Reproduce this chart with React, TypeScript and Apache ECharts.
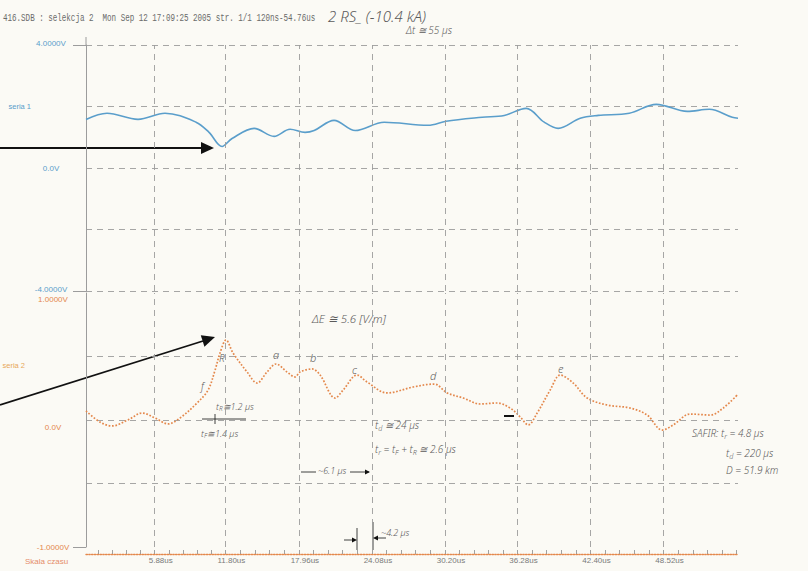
import React, { useEffect, useRef } from 'react';
import * as echarts from 'echarts';

// Time window of the record (µs) and labelled time marks
const startTime = 0.12;
const endTime = 54.76;
const timeTicks = [5.88, 11.8, 17.96, 24.08, 30.2, 36.28, 42.4, 48.52];

// Channel scales
const topAxisValues = [-4, 0, 4];
const topAxisLabels = ['-4.0000V', '0.0V', '4.0000V'];
const bottomAxisValues = [-1, 0, 1];
const bottomAxisLabels = ['-1.0000V', '0.0V', '1.0000V'];

// seria 1 (current channel)
const blueTime = [0.12, 1.88, 4.48, 6.74, 9.34, 10.43, 11.52, 12.36, 14.21, 15.88, 17.22, 18.48, 19.24, 20.91, 22.68, 25.11, 28.79, 30.3, 33.32, 35.17, 37.01, 38.52, 39.69, 41.54, 43.05, 45.65, 47.91, 50.51, 52.35, 54.28, 54.76];
const blueVolt = [1.58, 1.78, 1.58, 1.78, 1.49, 1.16, 0.7, 0.96, 1.29, 1.03, 1.26, 1.16, 1.22, 1.55, 1.22, 1.49, 1.39, 1.52, 1.65, 1.71, 1.94, 1.49, 1.29, 1.62, 1.71, 1.78, 2.07, 1.84, 1.91, 1.65, 1.62];

// seria 2 (field channel)
const orangeTime = [0.12, 1.29, 2.3, 3.64, 4.82, 5.9, 7.0, 8.0, 9.43, 10.35, 10.94, 11.35, 11.86, 12.44, 13.62, 14.46, 15.29, 16.05, 16.97, 17.64, 18.06, 19.07, 19.74, 21.0, 21.67, 22.84, 23.68, 25.36, 27.54, 29.3, 30.39, 31.73, 33.16, 34.58, 35.67, 36.51, 37.18, 37.93, 39.02, 39.86, 40.95, 42.12, 43.8, 45.73, 47.15, 48.41, 49.33, 50.76, 52.44, 53.52, 54.7];
const orangeVolt = [0.071, -0.016, -0.047, 0.0, 0.055, 0.016, -0.031, 0.016, 0.134, 0.236, 0.394, 0.528, 0.63, 0.528, 0.378, 0.291, 0.378, 0.441, 0.378, 0.339, 0.378, 0.402, 0.354, 0.173, 0.236, 0.354, 0.299, 0.213, 0.26, 0.283, 0.213, 0.173, 0.126, 0.134, 0.094, 0.024, -0.039, 0.055, 0.236, 0.354, 0.291, 0.173, 0.118, 0.094, 0.039, -0.079, -0.039, 0.047, 0.039, 0.094, 0.197];

const BLUE = '#5a9ecb';
const ORANGE = '#e4884c';
const GRID = '#9c9c9c';
const INK = '#5b5b5b';

// small scale ticks: five subdivisions per labelled interval
function buildMinorTicks(): number[] {
  const out: number[] = [];
  const first = timeTicks[1] - timeTicks[0];
  for (let v = timeTicks[0]; v > startTime; v -= first / 5) out.push(v);
  for (let i = 0; i < timeTicks.length - 1; i++) {
    const s = (timeTicks[i + 1] - timeTicks[i]) / 5;
    for (let k = 1; k <= 5; k++) out.push(timeTicks[i] + k * s);
  }
  const last = timeTicks[timeTicks.length - 1] - timeTicks[timeTicks.length - 2];
  for (let v = timeTicks[timeTicks.length - 1] + last / 5; v <= endTime; v += last / 5) out.push(v);
  return out.map((v) => Math.round(v * 1000) / 1000).sort((a, b) => a - b);
}

const HANDFONT = '"Noto Sans", sans-serif';

function hand(x: number, y: number, text: string, size = 10, extra: any = {}) {
  return {
    type: 'text',
    x,
    y,
    silent: true,
    style: {
      text,
      fill: INK,
      fontSize: size,
      fontFamily: HANDFONT,
      fontStyle: 'italic',
      fontWeight: 300,
      verticalAlign: 'middle',
      ...extra,
    },
  };
}

// handwritten text with subscripts: alternating normal / subscript parts
function handSub(x: number, y: number, parts: string[], size = 9) {
  const base = { fill: INK, fontSize: size, fontFamily: HANDFONT, fontStyle: 'italic', fontWeight: 300 };
  let text = '';
  parts.forEach((p, i) => {
    text += (i % 2 === 0 ? '{n|' : '{s|') + p + '}';
  });
  return {
    type: 'text',
    x,
    y,
    silent: true,
    style: {
      text,
      verticalAlign: 'middle',
      rich: {
        n: { ...base },
        s: { ...base, fontSize: size * 0.72, padding: [size * 0.55, 0, 0, 0] },
      },
    },
  };
}

function blackLine(x1: number, y1: number, x2: number, y2: number, w = 1) {
  return { type: 'line', silent: true, shape: { x1, y1, x2, y2 }, style: { stroke: '#111', lineWidth: w } };
}

function arrowHead(tx: number, ty: number, fx: number, fy: number, len = 13, half = 6) {
  const dx = tx - fx;
  const dy = ty - fy;
  const l = Math.hypot(dx, dy);
  const ux = dx / l;
  const uy = dy / l;
  const bx = tx - ux * len;
  const by = ty - uy * len;
  return {
    type: 'polygon',
    silent: true,
    shape: { points: [[tx, ty], [bx - uy * half, by + ux * half], [bx + uy * half, by - ux * half]] },
    style: { fill: '#111' },
  };
}

export default function App() {
  const ref = useRef<HTMLDivElement>(null);

  useEffect(() => {
    if (!ref.current) return;
    const chart = echarts.init(ref.current, undefined, { renderer: 'svg' });

    const vGrid = {
      silent: true,
      symbol: ['none', 'none'],
      label: { show: false },
      emphasis: { disabled: true },
      lineStyle: { color: GRID, type: [6, 5], width: 0.9 },
      data: timeTicks.map((v) => ({ xAxis: v })),
    };

    const topLabel = (v: number) => {
      const i = topAxisValues.indexOf(v);
      if (i < 0) return '';
      const key = v === 0 ? 'z' : 'e';
      return '{' + key + '|' + topAxisLabels[i] + '}';
    };
    const bottomLabel = (v: number) => {
      const i = bottomAxisValues.indexOf(v);
      if (i < 0) return '';
      const key = v === 1 ? 'hi' : v === 0 ? 'z' : 'lo';
      return '{' + key + '|' + bottomAxisLabels[i] + '}';
    };

    // stub axes that only carry the outward tick marks at the labelled limits
    const stubAxis = (gridIndex: number, min: number, max: number, values: number[]) => ({
      type: 'value',
      gridIndex,
      min,
      max,
      position: 'left',
      axisLine: { show: false, onZero: false },
      axisTick: { show: true, customValues: values, length: 13, lineStyle: { color: GRID } },
      axisLabel: { show: false },
      splitLine: { show: false },
    });

    const option: any = {
      animation: false,
      backgroundColor: '#fbfaf5',
      textStyle: { fontFamily: '"Liberation Sans", Arial, sans-serif' },
      grid: [
        { left: 86, right: 70, top: 45, height: 246 },
        { left: 86, right: 70, top: 293, height: 254 },
      ],
      xAxis: [
        {
          type: 'value',
          gridIndex: 0,
          min: startTime,
          max: endTime,
          axisLine: { show: false },
          axisTick: { show: false },
          axisLabel: { show: false },
          splitLine: { show: false },
        },
        {
          type: 'value',
          gridIndex: 1,
          min: startTime,
          max: endTime,
          offset: 7,
          axisLine: { show: true, onZero: false, lineStyle: { color: ORANGE, type: 'dotted', width: 1.4 } },
          axisTick: { show: true, inside: true, length: 4, customValues: buildMinorTicks(), lineStyle: { color: '#8a8a8a', width: 0.8 } },
          axisLabel: {
            customValues: timeTicks,
            margin: 2,
            fontSize: 8,
            color: '#7a7a7a',
            formatter: (v: number) => '{t|' + v.toFixed(2) + 'us}',
            rich: { t: { fontSize: 8, color: '#7a7a7a', padding: [0, 0, 0, 12] } },
          },
          splitLine: { show: false },
        },
      ],
      yAxis: [
        {
          type: 'value',
          gridIndex: 0,
          min: -4,
          max: 4,
          interval: 2,
          axisLine: { show: true, onZero: false, lineStyle: { color: GRID, width: 1 } },
          axisTick: { show: false },
          axisLabel: {
            customValues: topAxisValues,
            align: 'center',
            margin: 35,
            fontSize: 8,
            color: BLUE,
            formatter: topLabel,
            rich: {
              e: { fontSize: 8, color: BLUE, padding: [0, 0, 4, 0] },
              z: { fontSize: 8, color: BLUE },
            },
          },
          splitLine: { show: true, lineStyle: { color: GRID, type: [6, 5], width: 0.9 } },
        },
        {
          type: 'value',
          gridIndex: 1,
          min: -1,
          max: 1,
          interval: 0.5,
          axisLine: { show: true, onZero: false, lineStyle: { color: GRID, width: 1 } },
          axisTick: { show: false },
          axisLabel: {
            customValues: bottomAxisValues,
            align: 'center',
            margin: 33,
            fontSize: 8,
            color: ORANGE,
            formatter: bottomLabel,
            rich: {
              hi: { fontSize: 8, color: ORANGE, padding: [12, 0, 0, 0] },
              z: { fontSize: 8, color: ORANGE, padding: [14, 0, 0, 0] },
              lo: { fontSize: 8, color: ORANGE },
            },
          },
          splitLine: { show: true, showMinLine: false, showMaxLine: false, lineStyle: { color: GRID, type: [6, 5], width: 0.9 } },
        },
        stubAxis(0, -4, 4, [-4, 4]),
        stubAxis(1, -1, 1, [-1]),
      ],
      series: [
        {
          name: 'seria 1',
          type: 'line',
          xAxisIndex: 0,
          yAxisIndex: 0,
          data: blueTime.map((t, i) => [t, blueVolt[i]]),
          smooth: 0.35,
          showSymbol: false,
          silent: true,
          lineStyle: { color: BLUE, width: 1.6 },
          markLine: vGrid,
        },
        {
          name: 'seria 2',
          type: 'line',
          xAxisIndex: 1,
          yAxisIndex: 1,
          data: orangeTime.map((t, i) => [t, orangeVolt[i]]),
          smooth: 0.35,
          showSymbol: false,
          silent: true,
          lineStyle: { color: ORANGE, width: 1.7, type: 'dotted' },
          markLine: vGrid,
        },
      ],
      graphic: [
        // header line of the printout
        {
          type: 'text',
          x: 3,
          y: 18,
          scaleX: 0.72,
          silent: true,
          style: {
            text: '416.SDB : selekcja 2  Mon Sep 12 17:09:25 2005 str. 1/1 120ns-54.76us',
            fill: '#6a6a6a',
            fontSize: 10.5,
            fontFamily: '"Liberation Mono", monospace',
            verticalAlign: 'middle',
          },
        },
        hand(328, 16, '2 RS_ (-10.4 kA)', 15),
        hand(406, 30, 'Δt ≅ 55 µs', 10),
        // axis stub above the first channel
        { type: 'line', silent: true, shape: { x1: 86, y1: 37, x2: 86, y2: 45 }, style: { stroke: GRID, lineWidth: 1 } },
        // channel names and time scale caption
        { type: 'text', x: 31, y: 106, silent: true, style: { text: 'seria 1', fill: BLUE, fontSize: 7.5, textAlign: 'right', verticalAlign: 'middle' } },
        { type: 'text', x: 25, y: 365, silent: true, style: { text: 'seria 2', fill: '#e7a75a', fontSize: 7.5, textAlign: 'right', verticalAlign: 'middle' } },
        { type: 'text', x: 25, y: 561, silent: true, style: { text: 'Skala czasu', fill: '#e58d6a', fontSize: 8, verticalAlign: 'middle' } },
        // pointer arrows
        blackLine(0, 148, 202, 148, 1.8),
        arrowHead(214, 148, 0, 148),
        blackLine(0, 405, 203, 341, 1.8),
        arrowHead(215, 337, 0, 405),
        // waveform notes
        hand(312, 318, 'ΔE ≅ 5.6 [V/m]', 11.5),
        hand(201, 386, 'f', 10),
        hand(219, 358, 'R', 10),
        hand(273, 354, 'a', 11),
        hand(310, 357, 'b', 11),
        hand(352, 369, 'c', 11),
        hand(430, 375, 'd', 11),
        hand(558, 368, 'e', 11),
        handSub(216, 406, ['t', 'R', '≅1.2 µs'], 9),
        blackLine(202, 419, 246, 419, 0.8),
        blackLine(215, 414, 215, 424, 0.8),
        handSub(201, 433, ['t', 'F', '≅1.4 µs'], 9),
        handSub(375, 425, ['t', 'd', ' ≅ 24 µs'], 10),
        handSub(375, 449, ['t', 'r', ' = t', 'F', ' + t', 'R', ' ≅ 2.6 µs'], 10),
        blackLine(301, 472, 316, 472, 0.8),
        blackLine(350, 472, 369, 472, 0.8),
        arrowHead(370, 472, 350, 472, 5, 2.5),
        hand(318, 470, '~6.1 µs', 9),
        blackLine(357, 528, 357, 550, 0.8),
        blackLine(373, 522, 373, 550, 0.8),
        blackLine(344, 540, 352, 540, 0.8),
        arrowHead(357, 540, 344, 540, 5, 2.5),
        blackLine(386, 538, 378, 538, 0.8),
        arrowHead(373, 538, 386, 538, 5, 2.5),
        hand(381, 532, '~4.2 µs', 9),
        blackLine(504, 416, 514, 416, 2),
        handSub(692, 433, ['SAFIR: t', 'r', ' = 4.8 µs'], 10),
        handSub(726, 453, ['t', 'd', ' = 220 µs'], 10),
        hand(726, 470, 'D = 51.9 km', 10),
      ],
    };

    chart.setOption(option);
    return () => chart.dispose();
  }, []);

  return <div ref={ref} style={{ position: 'fixed', left: 0, top: 0, width: 808, height: 571 }} />;
}
